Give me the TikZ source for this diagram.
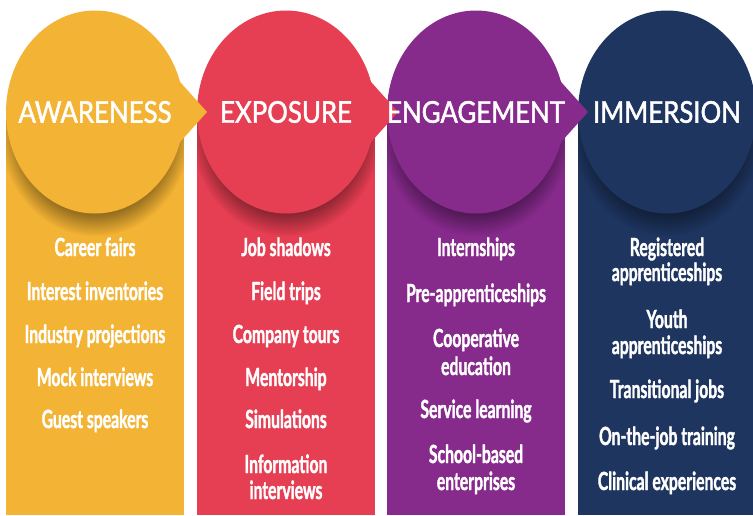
\documentclass[tikz,border=0pt]{standalone}
\usepackage{fontspec}
\newfontfamily\titlefont{Lato}[FakeStretch=0.86,FakeBold=1.6]
\newfontfamily\itemfont{Lato}[FakeStretch=0.63,FakeBold=1.4]
\usetikzlibrary{shapes.geometric,fadings}
\definecolor{cyel}{RGB}{243,179,52}
\definecolor{cred}{RGB}{230,62,82}
\definecolor{cpur}{RGB}{134,42,140}
\definecolor{cnav}{RGB}{30,53,96}
\tikzset{
  phase/.style={ellipse, minimum width=178pt, minimum height=203pt, inner sep=0pt, draw=none},
  title/.style={text=white, font=\titlefont\fontsize{30}{30}\selectfont, inner sep=0pt, anchor=center},
  item/.style={text=white, font=\itemfont\bfseries\fontsize{25}{27}\selectfont, inner sep=0pt, anchor=base},
}
\begin{document}
\begin{tikzpicture}[x=1pt,y=-1pt]
\useasboundingbox (0,0) rectangle (753,515);
% columns with shadows
\foreach \cx/\col in {95/cyel,286/cred,476/cpur,667/cnav} {
  \fill[\col] (\cx-89,112) rectangle (\cx+89,515);
  \begin{scope}
    \clip (\cx-89,112) rectangle (\cx+89,515);
    \fill[black,opacity=0.38,path fading=circle with fuzzy edge 20 percent] (\cx-96,20) rectangle (\cx+96,236);
  \end{scope}
}
% heads
\node[phase, fill=cyel] (h1) at (95,112) {};
\node[phase, fill=cred] (h2) at (286,112) {};
\node[phase, fill=cpur] (h3) at (476,112) {};
\node[phase, fill=cnav] (h4) at (667,112) {};
% pointers
\foreach \cx/\col in {95/cyel,286/cred,476/cpur} {
  \fill[\col] (\cx+60,54) -- (\cx+112,112) -- (\cx+60,170) -- cycle;
}
% titles
\node[title] (t1) at (h1.center) {AWARENESS};
\node[title] (t2) at (h2.center) {EXPOSURE};
\node[title] (t3) at (h3.center) {ENGAGEMENT};
\node[title] (t4) at (h4.center) {IMMERSION};
% column 1
\node[item] (a1) at (95,256) {Career fairs};
\node[item] (a2) at (95,300) {Interest inventories};
\node[item] (a3) at (95,343) {Industry projections};
\node[item] (a4) at (95,386) {Mock interviews};
\node[item] (a5) at (95,428) {Guest speakers};
% column 2
\node[item] (b1) at (286,256) {Job shadows};
\node[item] (b2) at (286,300) {Field trips};
\node[item] (b3) at (286,343) {Company tours};
\node[item] (b4) at (286,386) {Mentorship};
\node[item] (b5) at (286,428) {Simulations};
\node[item] (b6) at (286,473) {Information};
\node[item] (b7) at (286,499) {interviews};
% column 3
\node[item] (c1) at (476,256) {Internships};
\node[item] (c2) at (476,302) {Pre-apprenticeships};
\node[item] (c3) at (476,347) {Cooperative};
\node[item] (c4) at (476,375) {education};
\node[item] (c5) at (476,418) {Service learning};
\node[item] (c6) at (476,463) {School-based};
\node[item] (c7) at (476,490) {enterprises};
% column 4
\node[item] (d1) at (667,256) {Registered};
\node[item] (d2) at (667,281) {apprenticeships};
\node[item] (d3) at (667,328) {Youth};
\node[item] (d4) at (667,354) {apprenticeships};
\node[item] (d5) at (667,398) {Transitional jobs};
\node[item] (d6) at (667,445) {On-the-job training};
\node[item] (d7) at (667,490) {Clinical experiences};
\end{tikzpicture}
\end{document}
